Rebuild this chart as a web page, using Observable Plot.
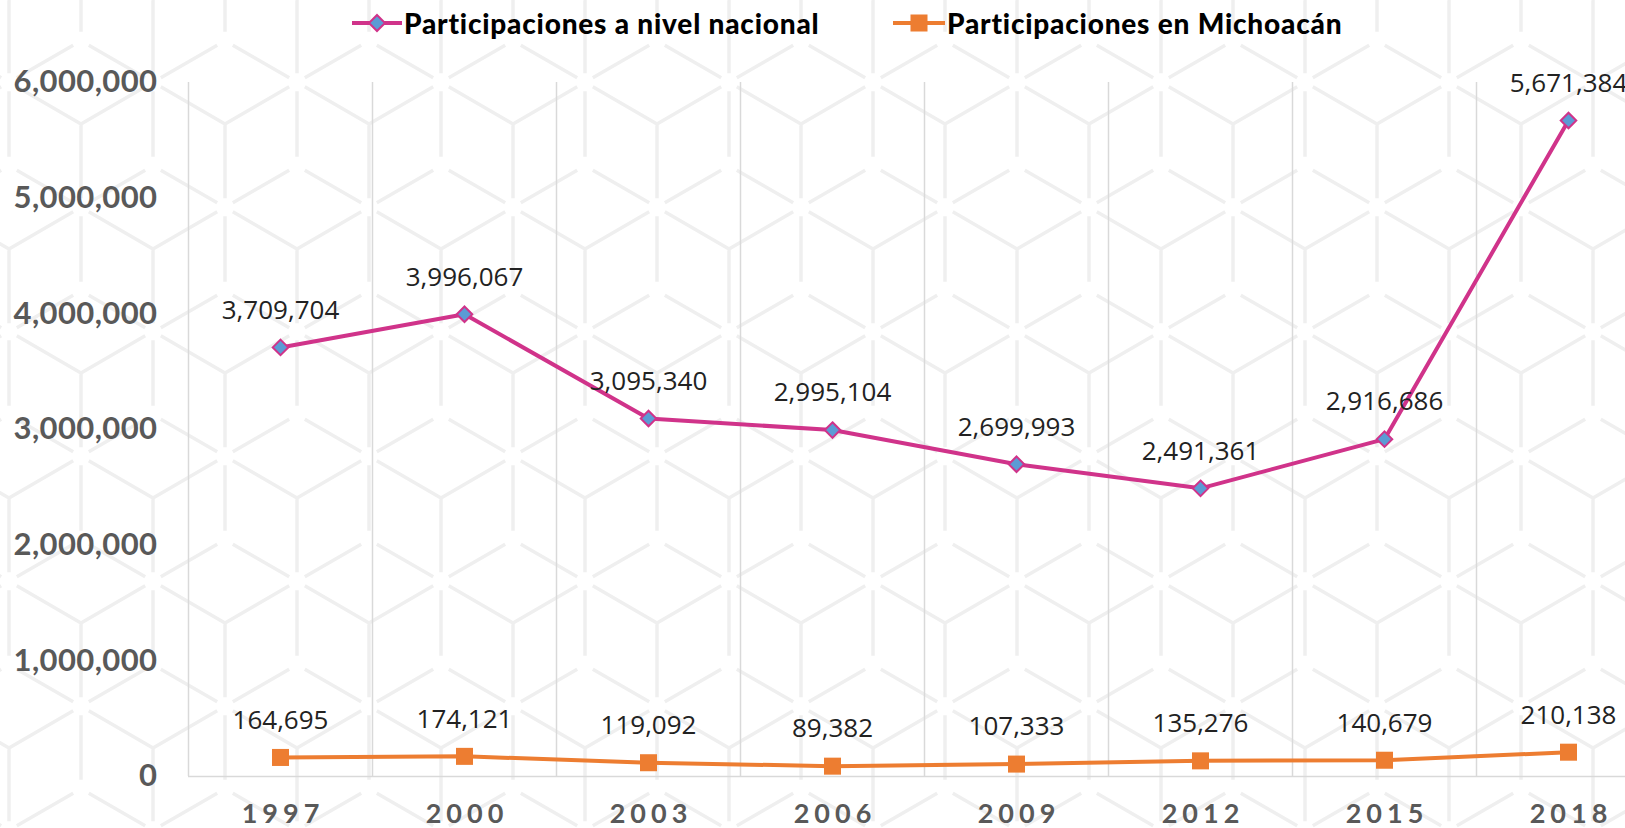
<!DOCTYPE html>
<html><head><meta charset="utf-8">
<script src="https://cdn.jsdelivr.net/npm/d3@7"></script>
<script src="https://cdn.jsdelivr.net/npm/@observablehq/plot@0.6"></script>
<style>
html,body{margin:0;padding:0;background:#fff;}
body{width:1625px;height:828px;overflow:hidden;position:relative;background-color:#fff;}
#legend{position:relative;height:46px;}
.item{position:absolute;top:0;height:46px;display:flex;align-items:center;font-family:Lato,"Noto Sans",sans-serif;font-weight:900;font-size:28px;letter-spacing:0.8px;color:#000;white-space:nowrap;}
.item svg{margin-right:2px;}
#chart svg{display:block;}
g[aria-label="x-axis tick label"] text{letter-spacing:5px;}
g[aria-label="y-axis tick label"] text{letter-spacing:0.4px;}
</style></head><body>
<div id="legend"></div>
<div id="chart"></div>
<script>
const years = [1997, 2000, 2003, 2006, 2009, 2012, 2015, 2018];
const nacional = [3709704, 3996067, 3095340, 2995104, 2699993, 2491361, 2916686, 5671384];
const michoacan = [164695, 174121, 119092, 89382, 107333, 135276, 140679, 210138];
const seriesNames = ["Participaciones a nivel nacional", "Participaciones en Michoacán"];
const yTicks = [0, 1000000, 2000000, 3000000, 4000000, 5000000, 6000000];

const pink = "#d0338a", blue = "#5b9bd5", orange = "#ed7d31";

// background cube pattern (decoration)
(function(){
  const w = 144, s = w/Math.sqrt(3), rh = 1.5*s, th = 2*rh, g = 9;
  let d = "";
  const seg = (x1,y1,x2,y2,g1,g2) => {
    const L = Math.hypot(x2-x1,y2-y1), ux=(x2-x1)/L, uy=(y2-y1)/L;
    d += `M${(x1+ux*g1).toFixed(1)},${(y1+uy*g1).toFixed(1)}L${(x2-ux*g2).toFixed(1)},${(y2-uy*g2).toFixed(1)}`;
  };
  for (let r=-1;r<=3;r++) for (let k=-1;k<=2;k++){
    const cx = k*w + (Math.abs(r)%2 ? w/2 : 0), cy = r*rh;
    const p = [[0,-s],[w/2,-s/2],[w/2,s/2],[0,s],[-w/2,s/2],[-w/2,-s/2]].map(q=>[cx+q[0],cy+q[1]]);
    for (let i=0;i<6;i++){ const a=p[i], b=p[(i+1)%6]; seg(a[0],a[1],b[0],b[1],g,g); }
    seg(cx,cy,p[5][0],p[5][1],0,g); seg(cx,cy,p[1][0],p[1][1],0,g); seg(cx,cy,p[3][0],p[3][1],0,g);
  }
  const svg = `<svg xmlns="http://www.w3.org/2000/svg" width="${w}" height="${th}"><path d="${d}" fill="none" stroke="#efefef" stroke-width="3.5" stroke-linecap="butt"/></svg>`;
  document.body.style.backgroundImage = `url("data:image/svg+xml,${encodeURIComponent(svg)}")`;
  document.body.style.backgroundSize = `${w}px ${th}px`;
  document.body.style.backgroundPosition = `81px 124px`;
})();

// legend
const legend = document.getElementById("legend");
const sw1 = `<svg width="50" height="22"><line x1="0" y1="11" x2="50" y2="11" stroke="${pink}" stroke-width="4"/><path d="M25,3L33,11L25,19L17,11Z" fill="${blue}" stroke="${pink}" stroke-width="2"/></svg>`;
const sw2 = `<svg width="52" height="22"><line x1="0" y1="11" x2="52" y2="11" stroke="${orange}" stroke-width="4"/><rect x="17.5" y="2.5" width="17" height="17" fill="${orange}"/></svg>`;
legend.innerHTML = `<div class="item" style="left:352px">${sw1}<span>${seriesNames[0]}</span></div>` +
  `<div class="item" style="left:893px">${sw2}<span>${seriesNames[1]}</span></div>`;

const nac = years.map((y,i)=>({year:y, value:nacional[i]}));
const mic = years.map((y,i)=>({year:y, value:michoacan[i]}));
const bounds = years.map(y=>y-1.5);
const fmt = d3.format(",");

const chart = Plot.plot({
  width: 1625, height: 782,
  marginLeft: 188, marginRight: 0, marginTop: 36, marginBottom: 52,
  style: {background: "transparent", overflow: "visible"},
  x: {type: "linear", domain: [1995.5, 2019.5], range: [188, 1660]},
  y: {domain: [0, 6000000]},
  marks: [
    Plot.ruleX(bounds, {y1: 0, y2: 6000000, stroke: "#d9d9d9", strokeWidth: 1.5}),
    Plot.ruleY([0], {stroke: "#d9d9d9", strokeWidth: 1.5}),
    Plot.axisY({ticks: yTicks, tickFormat: fmt, tickSize: 0, tickPadding: 31, fontSize: 31, fontWeight: 700, fontFamily: "Lato", fill: "#595959", label: null}),
    Plot.axisX({ticks: years, tickFormat: d=>String(d), tickSize: 0, tickPadding: 27, fontSize: 27, fontWeight: 700, fontFamily: "Lato", fill: "#595959", label: null, dx: 2.5}),
    Plot.line(nac, {x: "year", y: "value", stroke: pink, strokeWidth: 4}),
    Plot.line(mic, {x: "year", y: "value", stroke: orange, strokeWidth: 4}),
    Plot.dot(nac, {x: "year", y: "value", symbol: "diamond2", r: 7, fill: blue, stroke: pink, strokeWidth: 2}),
    Plot.dot(mic, {x: "year", y: "value", symbol: "square", r: 9.6, fill: orange, stroke: "none"}),
    Plot.text(nac, {x: "year", y: "value", text: d=>fmt(d.value), dy: -37, fontSize: 26, fontFamily: "Open Sans", fill: "#222"}),
    Plot.text(mic, {x: "year", y: "value", text: d=>fmt(d.value), dy: -37, fontSize: 26, fontFamily: "Open Sans", fill: "#222"})
  ]
});
document.getElementById("chart").appendChild(chart);
</script>
</body></html>
